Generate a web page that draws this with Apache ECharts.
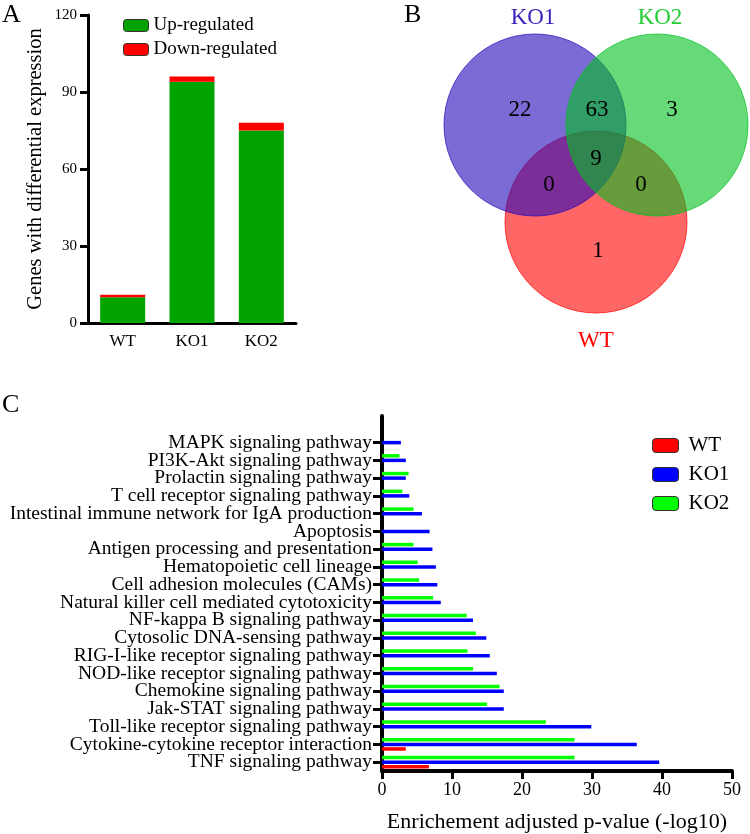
<!DOCTYPE html>
<html><head><meta charset="utf-8">
<script src="https://cdn.jsdelivr.net/npm/echarts@6/dist/echarts.min.js"></script>
<style>html,body{margin:0;padding:0;background:#fff}#c{width:750px;height:834px}</style>
</head><body><div id="c"></div>
<script>
// ---------- Panel A data ----------
const groupsA = ['WT', 'KO1', 'KO2'];
const upRegulated = [10, 94, 75];
const downRegulated = [1, 2, 3];

// ---------- Panel B (Venn) data ----------
const vennSetNames = ['KO1', 'KO2', 'WT'];
const vennRegions = ['KO1', 'KO1&KO2', 'KO2', 'KO1&KO2&WT', 'KO1&WT', 'KO2&WT', 'WT'];
const vennCounts = [22, 63, 3, 9, 0, 0, 1];

// ---------- Panel C data (top to bottom) ----------
const pathways = [
  'MAPK signaling pathway',
  'PI3K-Akt signaling pathway',
  'Prolactin signaling pathway',
  'T cell receptor signaling pathway',
  'Intestinal immune network for IgA production',
  'Apoptosis',
  'Antigen processing and presentation',
  'Hematopoietic cell lineage',
  'Cell adhesion molecules (CAMs)',
  'Natural killer cell mediated cytotoxicity',
  'NF-kappa B signaling pathway',
  'Cytosolic DNA-sensing pathway',
  'RIG-I-like receptor signaling pathway',
  'NOD-like receptor signaling pathway',
  'Chemokine signaling pathway',
  'Jak-STAT signaling pathway',
  'Toll-like receptor signaling pathway',
  'Cytokine-cytokine receptor interaction',
  'TNF signaling pathway'
];
const enrichWT  = [null, null, null, null, null, null, null, null, null, null, null, null, null, null, null, null, null, 3.4, 6.7];
const enrichKO1 = [2.7, 3.4, 3.4, 3.9, 5.7, 6.8, 7.2, 7.7, 7.9, 8.4, 13.0, 14.9, 15.4, 16.4, 17.4, 17.4, 29.9, 36.4, 39.6];
const enrichKO2 = [null, 2.5, 3.8, 2.9, 4.5, null, 4.5, 5.1, 5.3, 7.3, 12.1, 13.4, 12.2, 13.0, 16.8, 15.0, 23.4, 27.5, 27.5];

// ---------- build ----------
const FONT = '"Liberation Serif", "Times New Roman", serif';
const chart = echarts.init(document.getElementById('c'), null, {renderer: 'canvas'});

// category axis for C: bottom-first, plus an empty slot on top (axis headroom)
const catC = pathways.slice().reverse().concat(['']);
const padTop = arr => arr.slice().reverse().concat([null]);

// Venn layout (pixel geometry)
const vennCircles = {
  KO1: {cx: 535, cy: 125, r: 91, fill: 'rgba(35,8,185,0.6)', stroke: 'rgba(35,8,185,0.7)', lx: 533, ly: 18, lc: '#3a22c0'},
  KO2: {cx: 657, cy: 125, r: 91, fill: 'rgba(0,192,30,0.6)', stroke: 'rgba(0,192,30,0.7)', lx: 660, ly: 18, lc: '#22cc33'},
  WT:  {cx: 596, cy: 222, r: 91, fill: 'rgba(255,0,0,0.6)', stroke: 'rgba(255,0,0,0.7)', lx: 596, ly: 341, lc: '#ff0000'}
};
const vennRegionPos = {
  'KO1': [520, 110], 'KO1&KO2': [597, 110], 'KO2': [672, 110],
  'KO1&KO2&WT': [596, 159], 'KO1&WT': [549, 185], 'KO2&WT': [641, 185], 'WT': [598, 251]
};
const graphics = [];
['WT', 'KO1', 'KO2'].forEach(n => {
  const c = vennCircles[n];
  graphics.push({type: 'circle', shape: {cx: c.cx, cy: c.cy, r: c.r}, style: {fill: c.fill, stroke: c.stroke, lineWidth: 1}, z: 1});
});
vennSetNames.forEach(n => {
  const c = vennCircles[n];
  graphics.push({type: 'text', x: c.lx, y: c.ly, style: {text: n, fill: c.lc, font: '23px ' + FONT, textAlign: 'center', textVerticalAlign: 'middle'}, z: 3});
});
vennRegions.forEach((reg, i) => {
  const p = vennRegionPos[reg];
  graphics.push({type: 'text', x: p[0], y: p[1], style: {text: String(vennCounts[i]), fill: '#000', font: '23px ' + FONT, textAlign: 'center', textVerticalAlign: 'middle'}, z: 3});
});
// panel letters
[['A', 2, 2], ['B', 404, 2], ['C', 2, 392]].forEach(t => {
  graphics.push({type: 'text', x: t[1], y: t[2], style: {text: t[0], fill: '#000', font: '26px ' + FONT, textAlign: 'left', textVerticalAlign: 'top'}, z: 3});
});

const axisBlack = {lineStyle: {color: '#000', width: 3}};
const option = {
  animation: false,
  backgroundColor: '#fff',
  textStyle: {fontFamily: FONT, color: '#000'},
  graphic: graphics,
  legend: [
    {
      data: ['Up-regulated', 'Down-regulated'],
      orient: 'vertical', left: 118, top: 11,
      itemWidth: 25, itemHeight: 12, itemGap: 5,
      textStyle: {fontFamily: FONT, fontSize: 19, color: '#000'},
      itemStyle: {borderColor: '#333', borderWidth: 1},
      selectedMode: false
    },
    {
      data: ['WT', 'KO1', 'KO2'],
      orient: 'vertical', left: 647, top: 430,
      itemWidth: 26, itemHeight: 14, itemGap: 8,
      textStyle: {fontFamily: FONT, fontSize: 21, color: '#000', padding: [0, 0, 0, 5]},
      itemStyle: {borderColor: '#333', borderWidth: 1},
      selectedMode: false
    }
  ],
  grid: [
    {left: 88, top: 15, width: 208, height: 308},
    {left: 382, top: 416, right: 18, bottom: 62}
  ],
  xAxis: [
    {
      gridIndex: 0, type: 'category', data: groupsA,
      axisLine: axisBlack,
      axisTick: {alignWithLabel: true, length: 6, lineStyle: {color: '#000', width: 3}},
      axisLabel: {fontFamily: FONT, fontSize: 17, color: '#000', margin: 10}
    },
    {
      gridIndex: 1, type: 'value', min: 0, max: 50, interval: 10,
      name: 'Enrichement adjusted p-value (-log10)', nameLocation: 'middle', nameGap: 40,
      nameTextStyle: {fontFamily: FONT, fontSize: 22, color: '#000'},
      axisLine: {show: true, lineStyle: {color: '#000', width: 4}},
      axisTick: {show: true, length: 8, lineStyle: {color: '#000', width: 3}},
      axisLabel: {fontFamily: FONT, fontSize: 18, color: '#000', margin: 10},
      splitLine: {show: false}
    }
  ],
  yAxis: [
    {
      gridIndex: 0, type: 'value', min: 0, max: 120, interval: 30,
      name: 'Genes with differential expression', nameLocation: 'middle', nameGap: 42,
      nameTextStyle: {fontFamily: FONT, fontSize: 20.5, color: '#000'},
      axisLine: {show: true, lineStyle: {color: '#000', width: 3}},
      axisTick: {show: true, length: 8, lineStyle: {color: '#000', width: 3}},
      axisLabel: {fontFamily: FONT, fontSize: 15, color: '#000', margin: 11},
      splitLine: {show: false}
    },
    {
      gridIndex: 1, type: 'category', data: catC,
      axisLine: {show: true, lineStyle: {color: '#000', width: 4}},
      axisTick: {show: true, alignWithLabel: true, length: 9, lineStyle: {color: '#000', width: 3},
                 interval: (idx, val) => val !== ''},
      axisLabel: {fontFamily: FONT, fontSize: 19.5, color: '#000', margin: 10, interval: 0, lineHeight: 20}
    }
  ],
  series: [
    {name: 'Up-regulated', type: 'bar', stack: 'a', xAxisIndex: 0, yAxisIndex: 0, data: upRegulated,
     barWidth: 45, itemStyle: {color: '#00a300'}},
    {name: 'Down-regulated', type: 'bar', stack: 'a', xAxisIndex: 0, yAxisIndex: 0, data: downRegulated,
     barWidth: 45, itemStyle: {color: '#ff0000'}},
    {name: 'KO2', type: 'bar', xAxisIndex: 1, yAxisIndex: 1, data: padTop(enrichKO2),
     barWidth: 3.5, barGap: '30%', itemStyle: {color: '#00ff00'}},
    {name: 'KO1', type: 'bar', xAxisIndex: 1, yAxisIndex: 1, data: padTop(enrichKO1),
     barWidth: 3.5, barGap: '30%', itemStyle: {color: '#0000ff'}},
    {name: 'WT', type: 'bar', xAxisIndex: 1, yAxisIndex: 1, data: padTop(enrichWT),
     barWidth: 3.5, barGap: '30%', itemStyle: {color: '#ff0000'}}
  ]
};
chart.setOption(option);
</script>
</body></html>
